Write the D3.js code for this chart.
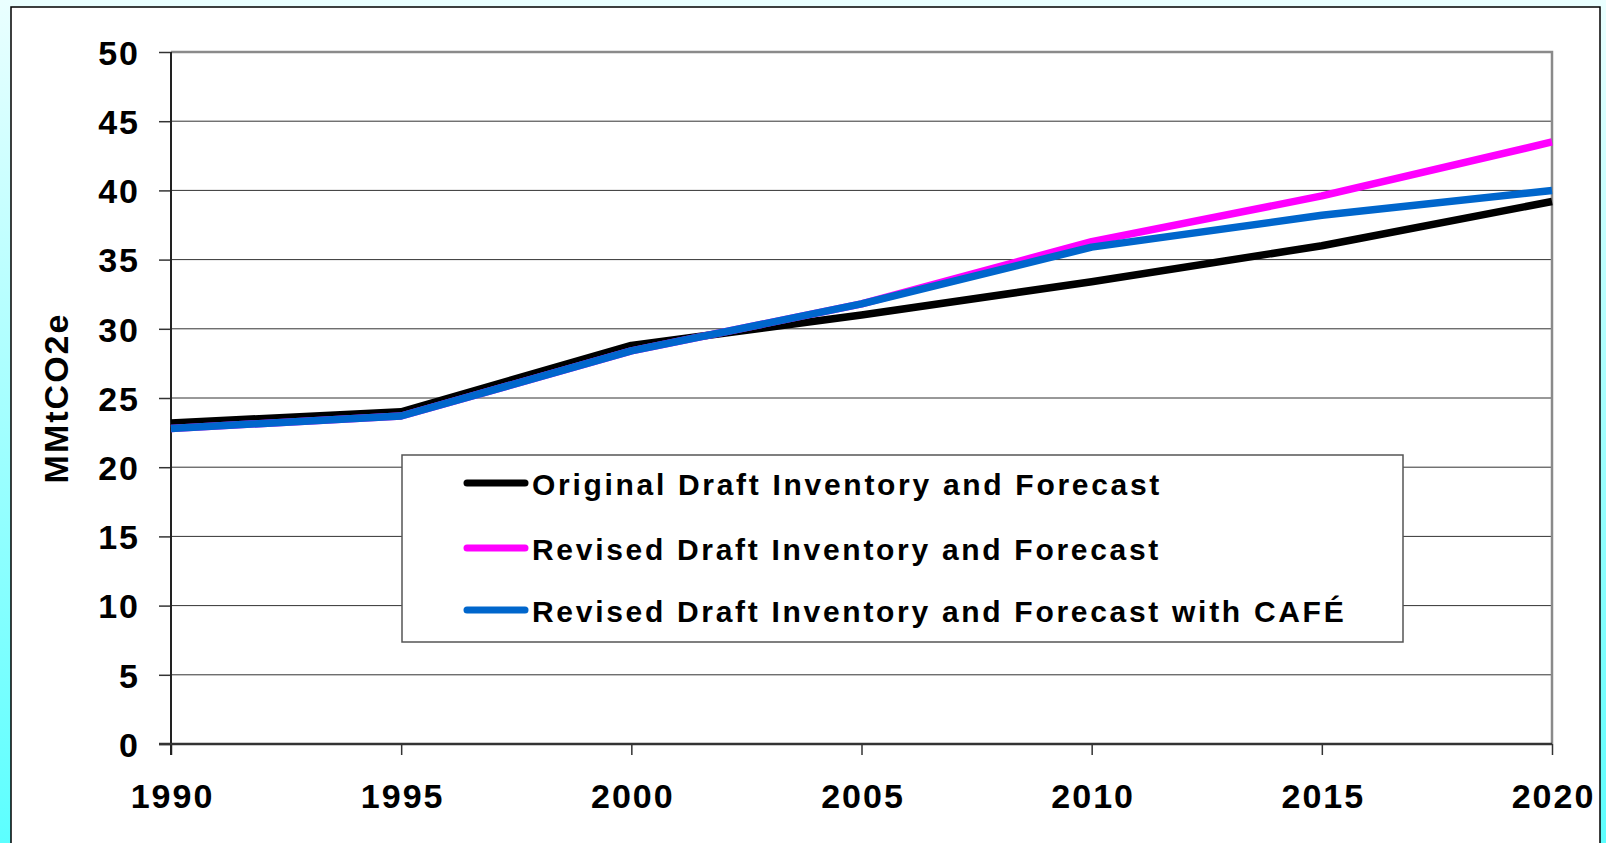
<!DOCTYPE html>
<html lang="en">
<head>
    <meta charset="UTF-8">
    <title>MMtCO2e forecast</title>
    <script src="https://d3js.org/d3.v7.min.js"></script>
    <style>
        body { margin: 0; overflow: hidden; }
        text { font-family: "Liberation Sans", Arial, sans-serif; font-weight: bold; fill: #000; }
    </style>
</head>
<body>

<svg id="svg-container" width="1606" height="843"></svg>
<script>

    // data
    const years = [1990, 1995, 2000, 2005, 2010, 2015, 2020];
    const original = [23.2, 24.0, 28.8, 31.0, 33.4, 36.0, 39.2];
    const revised = [22.8, 23.7, 28.4, 31.8, 36.3, 39.6, 43.5];
    const revisedCafe = [22.8, 23.7, 28.4, 31.8, 35.9, 38.2, 40.0];
    const seriesNames = [
        "Original Draft Inventory and Forecast",
        "Revised Draft Inventory and Forecast",
        "Revised Draft Inventory and Forecast with CAFÉ"
    ];
    const seriesColors = ["#000000", "#ff00ff", "#0066cc"];
    const yTicks = [0, 5, 10, 15, 20, 25, 30, 35, 40, 45, 50];
    const yLabel = "MMtCO2e";

    window.onload = function () {

        const svg = d3.select("#svg-container");

        // background gradient
        const grad = svg.append("defs").append("linearGradient")
            .attr("id", "bg").attr("x1", 0).attr("y1", 0).attr("x2", 0).attr("y2", 1);
        grad.append("stop").attr("offset", "0%").attr("stop-color", "#eaffff");
        grad.append("stop").attr("offset", "100%").attr("stop-color", "#5cffff");

        svg.append("rect").attr("width", 1606).attr("height", 843).attr("fill", "url(#bg)");

        // white chart panel
        svg.append("rect")
            .attr("x", 11).attr("y", 7).attr("width", 1589).attr("height", 860)
            .attr("fill", "#fff").attr("stroke", "#000").attr("stroke-width", 1.5);

        const left = 171, right = 1552, top = 52, bottom = 744;

        const x = d3.scaleLinear().domain([1990, 2020]).range([left, right]);
        const y = d3.scaleLinear().domain([0, 50]).range([bottom, top]);

        // gridlines
        svg.append("g").selectAll("line")
            .data(yTicks.filter(d => d > 0 && d < 50))
            .enter().append("line")
            .attr("x1", left).attr("x2", right)
            .attr("y1", d => y(d)).attr("y2", d => y(d))
            .attr("stroke", "#333").attr("stroke-width", 1);

        // plot frame top + right (grey)
        svg.append("path")
            .attr("d", `M${left},${top}H${right}V${bottom}`)
            .attr("fill", "none").attr("stroke", "#8a8a8a").attr("stroke-width", 2.5);

        // y axis
        const yAxis = svg.append("g")
            .attr("transform", `translate(${left},0)`)
            .call(d3.axisLeft(y).tickValues(yTicks).tickSize(12).tickPadding(19));
        yAxis.select(".domain").remove();
        yAxis.selectAll(".tick line").attr("stroke", "#333").attr("stroke-width", 1.5);
        yAxis.selectAll(".tick text")
            .style("font-size", "34px").style("letter-spacing", "2px")
            .attr("dy", "0.36em");
        yAxis.attr("font-family", null).attr("font-size", null);

        // x axis
        const xAxis = svg.append("g")
            .attr("transform", `translate(0,${bottom})`)
            .call(d3.axisBottom(x).tickValues(years).tickFormat(d3.format("d")).tickSize(11).tickPadding(29));
        xAxis.select(".domain").remove();
        xAxis.selectAll(".tick line").attr("stroke", "#333").attr("stroke-width", 1.5);
        xAxis.selectAll(".tick text")
            .style("font-size", "34px").style("letter-spacing", "2px")
            .attr("dx", "1px")
            .attr("dy", "0.71em");
        xAxis.attr("font-family", null).attr("font-size", null);

        // axis lines
        svg.append("line")
            .attr("x1", left).attr("x2", left).attr("y1", top).attr("y2", bottom + 11)
            .attr("stroke", "#222").attr("stroke-width", 2);
        svg.append("line")
            .attr("x1", left - 12).attr("x2", right).attr("y1", bottom).attr("y2", bottom)
            .attr("stroke", "#333").attr("stroke-width", 2.5);

        // y axis title
        svg.append("text")
            .attr("transform", "translate(68,398) rotate(-90)")
            .attr("text-anchor", "middle")
            .style("font-size", "34px").style("letter-spacing", "2px")
            .text(yLabel);

        // lines
        const line = d3.line().x((d, i) => x(years[i])).y(d => y(d));
        const allSeries = [original, revised, revisedCafe];
        svg.append("g").selectAll("path")
            .data(allSeries)
            .enter().append("path")
            .attr("d", d => line(d))
            .attr("fill", "none")
            .attr("stroke", (d, i) => seriesColors[i])
            .attr("stroke-width", 7.5)
            .attr("stroke-linejoin", "round");

        // legend
        const legend = svg.append("g");
        legend.append("rect")
            .attr("x", 402).attr("y", 455).attr("width", 1001).attr("height", 187)
            .attr("fill", "#fff").attr("stroke", "#555").attr("stroke-width", 1.5);
        const rowY = [483, 548, 610];
        const rows = legend.selectAll("g.row")
            .data(seriesNames)
            .enter().append("g")
            .attr("class", "row")
            .attr("transform", (d, i) => `translate(0,${rowY[i]})`);
        rows.append("line")
            .attr("x1", 467).attr("x2", 525)
            .attr("stroke", (d, i) => seriesColors[i])
            .attr("stroke-width", 7).attr("stroke-linecap", "round");
        rows.append("text")
            .attr("x", 532).attr("y", 12)
            .style("font-size", "30px").style("letter-spacing", "2.7px")
            .text(d => d);
    }

</script>

</body>
</html>
